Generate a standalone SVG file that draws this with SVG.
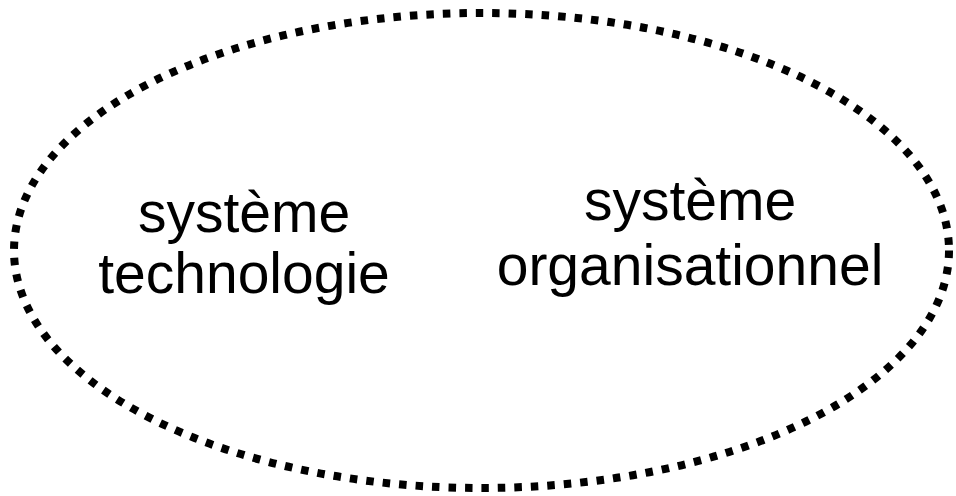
<svg xmlns="http://www.w3.org/2000/svg" width="956" height="496" viewBox="0 0 956 496">
<style>
.b{fill:none;stroke:#000;stroke-width:8;stroke-dasharray:7.5 9}
.t{font-family:"Liberation Sans",Arial,sans-serif;font-size:57px;fill:#000;text-anchor:middle}
</style>
<rect width="956" height="496" fill="#fff"/>
<g id="boundary"><ellipse class="b" cx="481.5" cy="250.5" rx="467.5" ry="237.5"/></g>
<g id="tech"><text class="t" x="244" y="232">système</text><text class="t" x="244" y="293">technologie</text></g>
<g id="org"><text class="t" x="690" y="220">système</text><text class="t" x="690" y="285">organisationnel</text></g>
<g id="connectors"/>
</svg>
